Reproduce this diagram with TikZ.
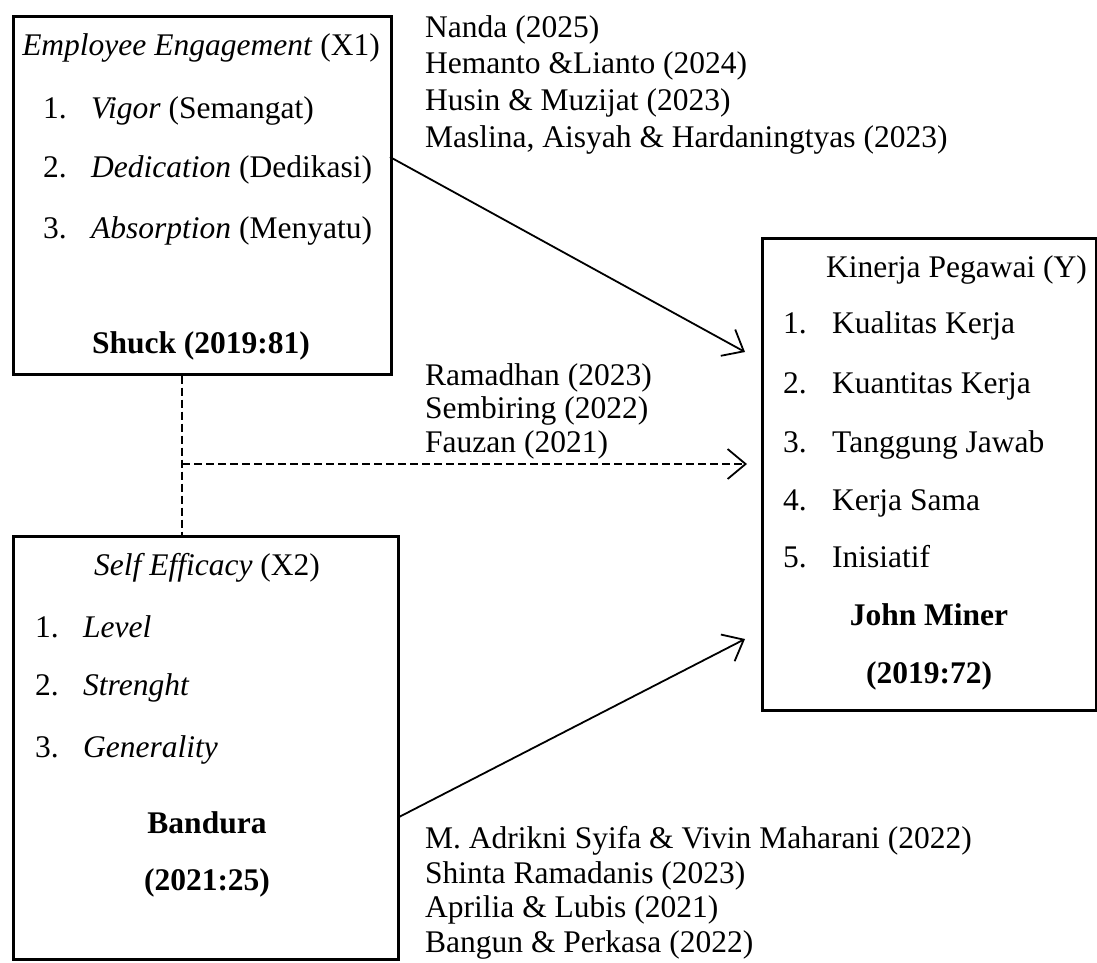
\documentclass[tikz,border=0pt]{standalone}
\usepackage{fontspec}
\setmainfont{Liberation Serif}
\usetikzlibrary{arrows.meta}
\begin{document}
\begin{tikzpicture}[x=1pt,y=-1pt,
  box/.style={draw, line width=2.6pt, inner sep=0pt, anchor=north west},
  txt/.style={inner sep=0pt, anchor=base west, font=\fontsize{31.5}{36}\selectfont},
  ctxt/.style={inner sep=0pt, anchor=base, font=\fontsize{31.5}{36}\selectfont},
  conn/.style={line width=1.8pt, -{Straight Barb[length=18pt,width=30pt,line width=1.8pt]}},
  dashline/.style={line width=2.4pt, dash pattern=on 8pt off 4pt},
  dasharrow/.style={line width=2pt, dash pattern=on 8pt off 4pt, -{Straight Barb[length=18pt,width=30pt,line width=1.8pt]}}
]
\useasboundingbox (0,0) rectangle (1097,962);

% boxes
\node[box, minimum width=378pt, minimum height=358pt] (x1) at (12,15) {};
\node[box, minimum width=385pt, minimum height=423pt] (x2) at (12,535) {};
\node[box, minimum width=334pt, minimum height=472pt] (y) at (761,237) {};

% X1 contents
\node[ctxt] (x1t) at (201,55) {\textit{Employee Engagement} (X1)};
\node[txt] (x1a) at (43,118) {\makebox[48pt][l]{1.}\textit{Vigor} (Semangat)};
\node[txt] (x1b) at (43,177) {\makebox[48pt][l]{2.}\textit{Dedication} (Dedikasi)};
\node[txt] (x1c) at (43,238) {\makebox[48pt][l]{3.}\textit{Absorption} (Menyatu)};
\node[ctxt] (x1s) at (201,353) {\textbf{Shuck (2019:81)}};

% X2 contents
\node[ctxt] (x2t) at (207,575) {\textit{Self Efficacy} (X2)};
\node[txt] (x2a) at (35,637) {\makebox[48pt][l]{1.}\textit{Level}};
\node[txt] (x2b) at (35,695) {\makebox[48pt][l]{2.}\textit{Strenght}};
\node[txt] (x2c) at (35,757) {\makebox[48pt][l]{3.}\textit{Generality}};
\node[ctxt] (x2s1) at (207,833) {\textbf{Bandura}};
\node[ctxt] (x2s2) at (207,890) {\textbf{(2021:25)}};

% Y contents
\node[txt] (yt) at (826,277) {Kinerja Pegawai (Y)};
\node[txt] (ya) at (783,333) {\makebox[49pt][l]{1.}Kualitas Kerja};
\node[txt] (yb) at (783,393) {\makebox[49pt][l]{2.}Kuantitas Kerja};
\node[txt] (yc) at (783,452) {\makebox[49pt][l]{3.}Tanggung Jawab};
\node[txt] (yd) at (783,510) {\makebox[49pt][l]{4.}Kerja Sama};
\node[txt] (ye) at (783,567) {\makebox[49pt][l]{5.}Inisiatif};
\node[ctxt] (ys1) at (929,625) {\textbf{John Miner}};
\node[ctxt] (ys2) at (929,683) {\textbf{(2019:72)}};

% citations
\node[txt] (c1) at (425,37) {Nanda (2025)};
\node[txt] (c2) at (425,73) {Hemanto \&Lianto (2024)};
\node[txt] (c3) at (425,110) {Husin \& Muzijat (2023)};
\node[txt] (c4) at (425,147) {Maslina, Aisyah \& Hardaningtyas (2023)};

\node[txt] (m1) at (425,385) {Ramadhan (2023)};
\node[txt] (m2) at (425,418) {Sembiring (2022)};
\node[txt] (m3) at (425,452) {Fauzan (2021)};

\node[txt] (b1) at (425,848) {M. Adrikni Syifa \& Vivin Maharani (2022)};
\node[txt] (b2) at (425,883) {Shinta Ramadanis (2023)};
\node[txt] (b3) at (425,917) {Aprilia \& Lubis (2021)};
\node[txt] (b4) at (425,952) {Bangun \& Perkasa (2022)};

% connectors
\coordinate (a1s) at (390,157);
\coordinate (a1e) at (745,352);
\coordinate (a2s) at (399,817);
\coordinate (a2e) at (745,639);
\coordinate (dj) at (182,464);
\coordinate (de) at (747,464);

\draw[conn] (a1s) -- (a1e);
\draw[conn] (a2s) -- (a2e);
\draw[dashline] (x1.south -| dj) -- (x2.north -| dj);
\draw[dasharrow] (dj) -- (de);
\end{tikzpicture}
\end{document}
